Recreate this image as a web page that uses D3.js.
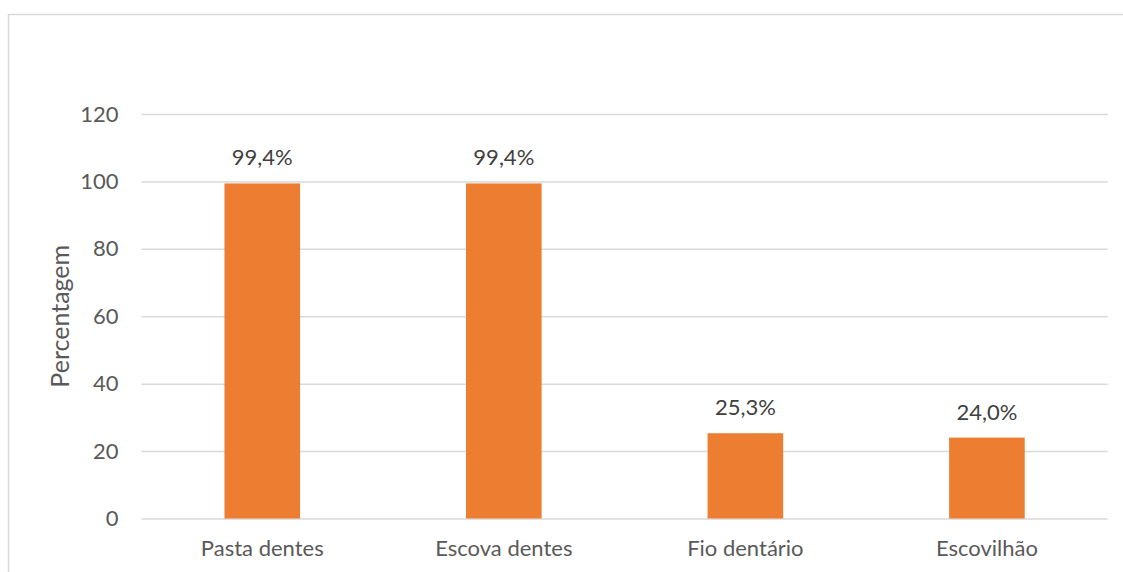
<!DOCTYPE html>
<html><head><meta charset="utf-8">
<script src="https://cdn.jsdelivr.net/npm/d3@7"></script>
<style>
html,body{margin:0;padding:0;background:#fff;}
svg{display:block;}
</style></head>
<body>
<svg id="chart" width="1123" height="572"></svg>
<script>
const categories = ["Pasta dentes", "Escova dentes", "Fio dentário", "Escovilhão"];
const values = [99.4, 99.4, 25.3, 24.0];
const valueLabels = ["99,4%", "99,4%", "25,3%", "24,0%"];
const yTicks = [0, 20, 40, 60, 80, 100, 120];
const yTitle = "Percentagem";

(function () {
const svg = d3.select("#chart");
const font = "Lato, 'Open Sans', sans-serif";
const textColor = "#595959";
const fs = "22px";

// outer border
svg.append("rect").attr("x", 8.5).attr("y", 14.5).attr("width", 1130).attr("height", 600)
  .attr("fill", "none").attr("stroke", "#d9d9d9").attr("stroke-width", 1.5);

const pl = 141.5, pr = 1107.7, pt = 114, pb = 518.5;
const x = d3.scaleBand().domain(categories).range([pl, pr]).paddingInner(0.687).paddingOuter(0.3435);
const y = d3.scaleLinear().domain([0, 120]).range([pb, pt]);

// gridlines
const yAxis = d3.axisLeft(y).tickValues(yTicks).tickSize(-(pr - pl)).tickPadding(23).tickFormat(d3.format("d"));
const gy = svg.append("g").attr("transform", `translate(${pl},0)`).call(yAxis);
gy.select(".domain").remove();
gy.selectAll(".tick line").attr("stroke", "#d9d9d9").attr("stroke-width", 1.5);
gy.selectAll(".tick text").attr("fill", textColor).style("font-family", font).style("font-size", fs);

// bars
svg.append("g").selectAll("rect").data(categories).join("rect")
  .attr("x", d => x(d)).attr("width", x.bandwidth())
  .attr("y", (d, i) => y(values[i])).attr("height", (d, i) => y(0) - y(values[i]))
  .attr("fill", "#ED7D31");

// value labels
svg.append("g").selectAll("text").data(categories).join("text")
  .attr("x", d => x(d) + x.bandwidth() / 2)
  .attr("y", (d, i) => y(values[i]) - 18)
  .attr("text-anchor", "middle").attr("fill", "#404040")
  .style("font-family", font).style("font-size", fs)
  .text((d, i) => valueLabels[i]);

// x axis labels
const xAxis = d3.axisBottom(x).tickSize(0).tickPadding(22);
const gx = svg.append("g").attr("transform", `translate(0,${pb})`).call(xAxis);
gx.select(".domain").remove();
gx.selectAll(".tick text").attr("fill", textColor).style("font-family", font).style("font-size", fs);

// y title
svg.append("text").attr("transform", `translate(69,${(pt + pb) / 2}) rotate(-90)`)
  .attr("text-anchor", "middle").attr("fill", textColor)
  .style("font-family", font).style("font-size", "25px").text(yTitle);
})();
</script>
</body></html>
